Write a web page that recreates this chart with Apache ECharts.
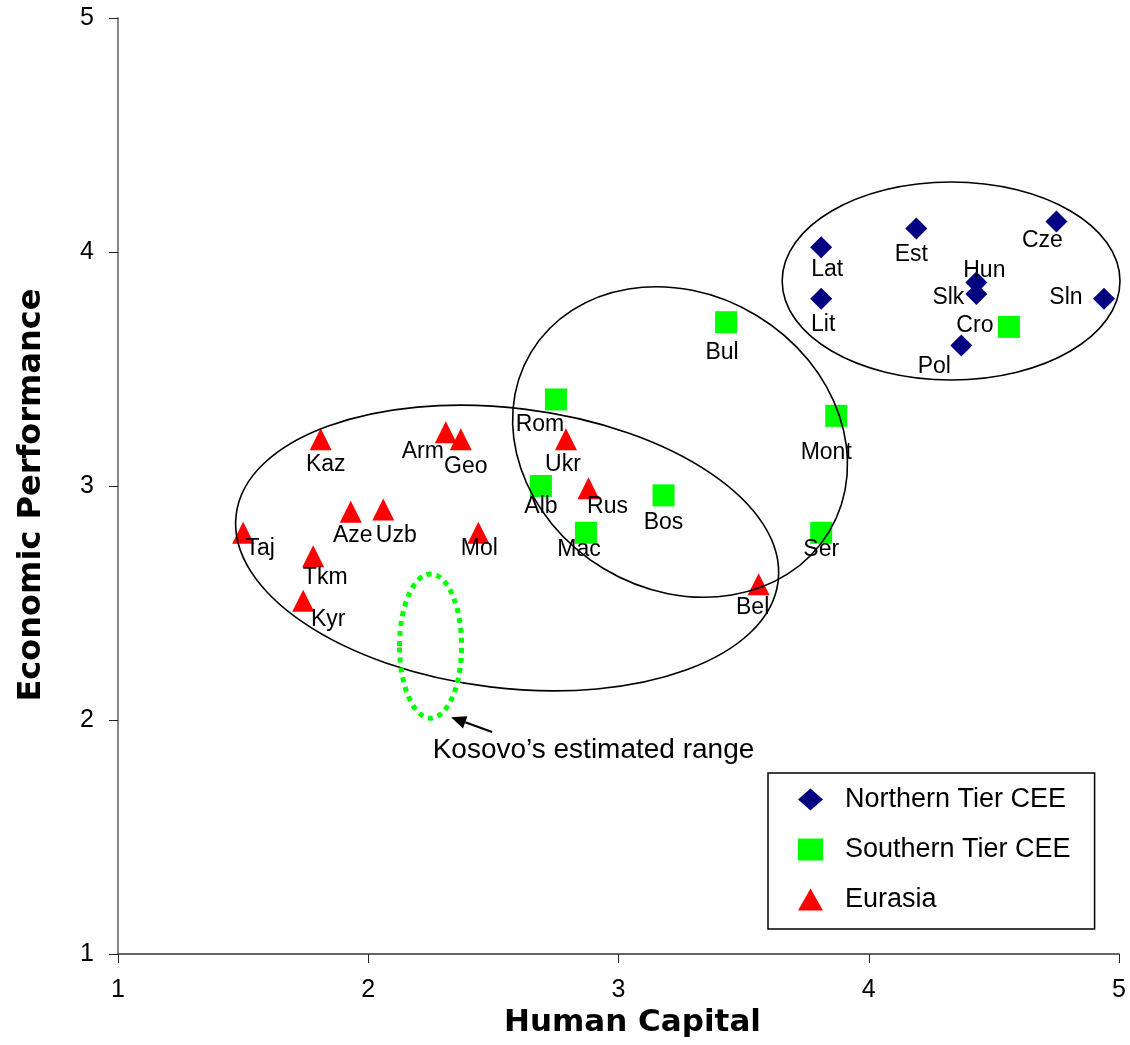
<!DOCTYPE html>
<html>
<head>
<meta charset="utf-8">
<script src="https://cdn.jsdelivr.net/npm/echarts@6/dist/echarts.min.js"></script>
<style>
  html, body { margin: 0; padding: 0; background: #fff; }
  #chart { width: 1130px; height: 1045px; }
</style>
</head>
<body>
<div id="chart"></div>
<script>
// Country scores: Human Capital (x) and Economic Performance (y)
const northernNames = ['Lat', 'Lit', 'Est', 'Cze', 'Hun', 'Slk', 'Sln', 'Pol'];
const northernHC    = [3.81, 3.81, 4.19, 4.75, 4.43, 4.43, 4.94, 4.37];
const northernEP    = [4.02, 3.80, 4.10, 4.13, 3.87, 3.82, 3.80, 3.60];

const southernNames = ['Cro', 'Bul', 'Rom', 'Mont', 'Alb', 'Mac', 'Bos', 'Ser'];
const southernHC    = [4.56, 3.43, 2.75, 3.87, 2.69, 2.87, 3.18, 3.81];
const southernEP    = [3.68, 3.70, 3.37, 3.30, 3.00, 2.80, 2.96, 2.80];

const eurasiaNames = ['Ukr', 'Rus', 'Bel', 'Kaz', 'Arm', 'Geo', 'Aze', 'Uzb', 'Taj', 'Mol', 'Tkm', 'Kyr'];
const eurasiaHC    = [2.79, 2.88, 3.56, 1.81, 2.31, 2.37, 1.93, 2.06, 1.50, 2.44, 1.78, 1.74];
const eurasiaEP    = [3.20, 2.99, 2.58, 3.20, 3.23, 3.20, 2.89, 2.90, 2.80, 2.80, 2.70, 2.51];

const seriesNames = ['Northern Tier CEE', 'Southern Tier CEE', 'Eurasia'];
const tickValues = [1, 2, 3, 4, 5];

// Group outlines: [centre HC, centre EP, half-width (HC units), half-height (EP units), tilt in degrees]
const groupOutlines = [
  [4.329, 3.876, 0.675, 0.423, 0],
  [3.246, 3.188, 0.695, 0.632, 31],
  [2.555, 2.735, 1.091, 0.598, 7]
];
// Kosovo's estimated range, same layout
const kosovoRange = [[2.249, 2.316, 0.124, 0.308, 0]];
const kosovoNoteText = 'Kosovo’s estimated range';
const kosovoNoteAt = [2.90, 1.872];
const kosovoArrowFrom = [2.495, 1.949];
const kosovoArrowTo = [2.331, 2.012];

// Label placement (pixel offset of each label from its marker)
const labelNudge = {
  Lat: [6, 22], Lit: [2, 26], Est: [-5, 26], Cze: [-14, 19], Hun: [8, -12], Slk: [-28, 4], Sln: [-38, -1], Pol: [-27, 21],
  Cro: [-34, -1], Bul: [-4, 30], Rom: [-16, 25], Mont: [-10, 37], Alb: [0, 21], Mac: [-7, 17], Bos: [0, 27], Ser: [0, 17],
  Ukr: [-3, 25], Rus: [19, 18], Bel: [-6, 23], Kaz: [5, 25], Arm: [-23, 19], Geo: [5, 27], Aze: [2, 24], Uzb: [13, 26],
  Taj: [17, 16], Mol: [1, 16], Tkm: [12, 21], Kyr: [25, 19]
};

const FONT = '"Liberation Sans", Arial, sans-serif';

function points(names, hc, ep) {
  return names.map((n, i) => ({
    name: n,
    value: [hc[i], ep[i]],
    label: { offset: labelNudge[n] || [0, 20] }
  }));
}

function scatter(name, symbol, color, data) {
  return {
    name, type: 'scatter', symbol, symbolSize: 22, data, z: 3,
    itemStyle: { color, opacity: 1 },
    label: {
      show: true, position: 'inside', formatter: p => p.name,
      fontFamily: FONT, fontSize: 23, color: '#000'
    },
    emphasis: { disabled: true }
  };
}

function ellipseItem(api, style) {
  const c = api.coord([api.value(0), api.value(1)]);
  const rx = api.size([api.value(2), 0])[0];
  const ry = api.size([0, api.value(3)])[1];
  return {
    type: 'ellipse', x: c[0], y: c[1], rotation: -api.value(4) * Math.PI / 180,
    shape: { cx: 0, cy: 0, rx: rx, ry: ry }, style: style
  };
}

const chart = echarts.init(document.getElementById('chart'), null, { renderer: 'canvas' });

chart.setOption({
  animation: false,
  backgroundColor: '#fff',
  grid: { left: 118, right: 11, top: 18, bottom: 91, outerBoundsMode: 'none', containLabel: false },
  xAxis: {
    type: 'value', min: tickValues[0], max: tickValues[tickValues.length - 1], interval: 1,
    splitLine: { show: false },
    axisLine: { onZero: false, lineStyle: { color: '#333', width: 1.5 } },
    axisTick: { length: 9, lineStyle: { color: '#222', width: 1 } },
    axisLabel: { fontFamily: FONT, fontSize: 25, color: '#000', margin: 24 },
    name: 'Human Capital', nameLocation: 'middle', nameGap: 46,
    nameTextStyle: { fontFamily: '"DejaVu Sans", sans-serif', fontWeight: 'bold', fontSize: 31, color: '#000', padding: [0, 0, 0, 28] }
  },
  yAxis: {
    type: 'value', min: tickValues[0], max: tickValues[tickValues.length - 1], interval: 1,
    splitLine: { show: false },
    axisLine: { onZero: false, lineStyle: { color: '#888', width: 2 } },
    axisTick: { length: 9, lineStyle: { color: '#222', width: 1 } },
    axisLabel: { fontFamily: FONT, fontSize: 25, color: '#000', margin: 24 },
    name: 'Economic Performance', nameLocation: 'middle', nameGap: 70,
    nameTextStyle: { fontFamily: '"DejaVu Sans", sans-serif', fontWeight: 'bold', fontSize: 32, color: '#000', padding: [0, 18, 0, 0] }
  },
  legend: {
    data: seriesNames, orient: 'vertical', left: 768, top: 773,
    itemWidth: 25, itemHeight: 22, itemGap: 23,
    padding: [13, 24, 16, 30],
    borderColor: '#000', borderWidth: 1.5, backgroundColor: '#fff',
    selectedMode: false,
    textStyle: { fontFamily: FONT, fontSize: 27, color: '#000', padding: [0, 0, 0, 17] }
  },
  series: [
    scatter(seriesNames[0], 'diamond', '#000080', points(northernNames, northernHC, northernEP)),
    scatter(seriesNames[1], 'rect', '#00ff00', points(southernNames, southernHC, southernEP)),
    scatter(seriesNames[2], 'triangle', '#ff0000', points(eurasiaNames, eurasiaHC, eurasiaEP)),
    {
      name: 'outlines', type: 'custom', z: 5, silent: true,
      encode: { x: 0, y: 1 },
      data: groupOutlines,
      renderItem: (params, api) => ellipseItem(api, { fill: null, stroke: '#000', lineWidth: 1.6 })
    },
    {
      name: 'kosovo', type: 'custom', z: 5, silent: true,
      encode: { x: 0, y: 1 },
      data: kosovoRange,
      renderItem: (params, api) => {
        const ring = ellipseItem(api, { fill: null, stroke: '#00ff00', lineWidth: 5, lineDash: [5, 5] });
        const a = api.coord(kosovoArrowFrom);
        const b = api.coord(kosovoArrowTo);
        const ang = Math.atan2(b[1] - a[1], b[0] - a[0]);
        const len = 15, half = 6.5;
        const bx = b[0] - len * Math.cos(ang), by = b[1] - len * Math.sin(ang);
        const px = -Math.sin(ang), py = Math.cos(ang);
        const t = api.coord(kosovoNoteAt);
        return {
          type: 'group',
          children: [
            ring,
            { type: 'line', shape: { x1: a[0], y1: a[1], x2: bx, y2: by }, style: { stroke: '#000', lineWidth: 2.2 } },
            { type: 'polygon', shape: { points: [[b[0], b[1]], [bx + px * half, by + py * half], [bx - px * half, by - py * half]] }, style: { fill: '#000' } },
            { type: 'text', x: t[0], y: t[1], style: { text: kosovoNoteText, font: '28px ' + FONT, fill: '#000', align: 'center', verticalAlign: 'middle' } }
          ]
        };
      }
    }
  ]
});
</script>
</body>
</html>
